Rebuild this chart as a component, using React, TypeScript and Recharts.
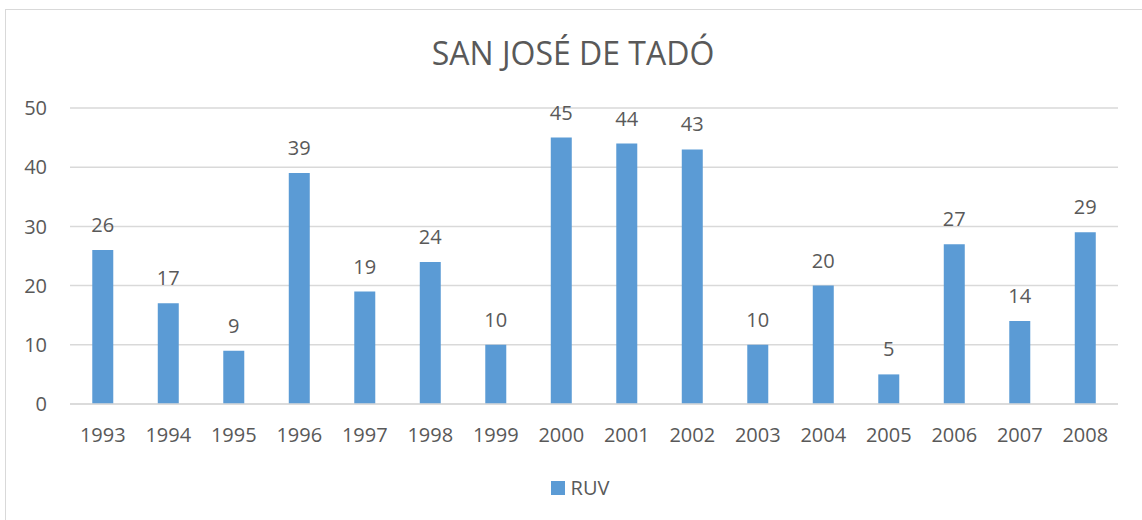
import React from "react";
import { BarChart, Bar, XAxis, YAxis, CartesianGrid, LabelList, Legend } from "recharts";

// San José de Tadó — RUV per year
const years = ["1993", "1994", "1995", "1996", "1997", "1998", "1999", "2000", "2001", "2002", "2003", "2004", "2005", "2006", "2007", "2008"];
const ruv = [26, 17, 9, 39, 19, 24, 10, 45, 44, 43, 10, 20, 5, 27, 14, 29];
const yTicks = [0, 10, 20, 30, 40, 50];

const data = years.map((y, i) => ({ year: y, RUV: ruv[i] }));

const FONT = "'Open Sans', 'Liberation Sans', sans-serif";
const TEXT = "#595959";
const BAR = "#5b9bd5";

function LegendContent() {
  return (
    <div style={{ display: "flex", justifyContent: "center", alignItems: "center", gap: 6, paddingLeft: 42, fontFamily: FONT, fontSize: 20, color: TEXT }}>
      <span style={{ width: 14, height: 14, background: BAR, display: "inline-block", flex: "none" }} />
      <span>RUV</span>
    </div>
  );
}

export default function App() {
  return (
    <div style={{ position: "absolute", left: 0, top: 0, width: 1142, height: 520, background: "#fff", overflow: "hidden" }}>
      <div style={{ position: "absolute", left: 5, top: 9, width: 1150, height: 530, border: "1px solid #d9d9d9", boxSizing: "border-box" }} />
      <div
        style={{
          position: "absolute",
          left: 0,
          top: 31,
          width: 1146,
          textAlign: "center",
          fontFamily: FONT,
          fontSize: 32,
          color: TEXT,
          lineHeight: "44px",
        }}
      >
        SAN JOSÉ DE TADÓ
      </div>
      <BarChart
        width={1142}
        height={520}
        data={data}
        margin={{ top: 108, right: 24, bottom: 16, left: 0 }}
        barCategoryGap="34%"
        style={{ position: "absolute", left: 0, top: 0, fontFamily: FONT }}
      >
        <CartesianGrid vertical={false} stroke="#d9d9d9" strokeWidth={1.5} />
        <XAxis
          dataKey="year"
          axisLine={{ stroke: "#d9d9d9", strokeWidth: 1.5 }}
          tickLine={false}
          tickSize={0}
          tickMargin={24}
          height={70}
          interval={0}
          tick={{ fill: TEXT, fontSize: 20 }}
        />
        <YAxis
          width={70}
          domain={[0, 50]}
          ticks={yTicks}
          axisLine={false}
          tickLine={false}
          tickSize={6}
          tickMargin={17}
          tick={{ fill: TEXT, fontSize: 20 }}
        />
        <Legend verticalAlign="bottom" height={30} content={<LegendContent />} />
        <Bar dataKey="RUV" fill={BAR} isAnimationActive={false}>
          <LabelList dataKey="RUV" position="top" offset={18} fill={TEXT} fontSize={20} />
        </Bar>
      </BarChart>
    </div>
  );
}
